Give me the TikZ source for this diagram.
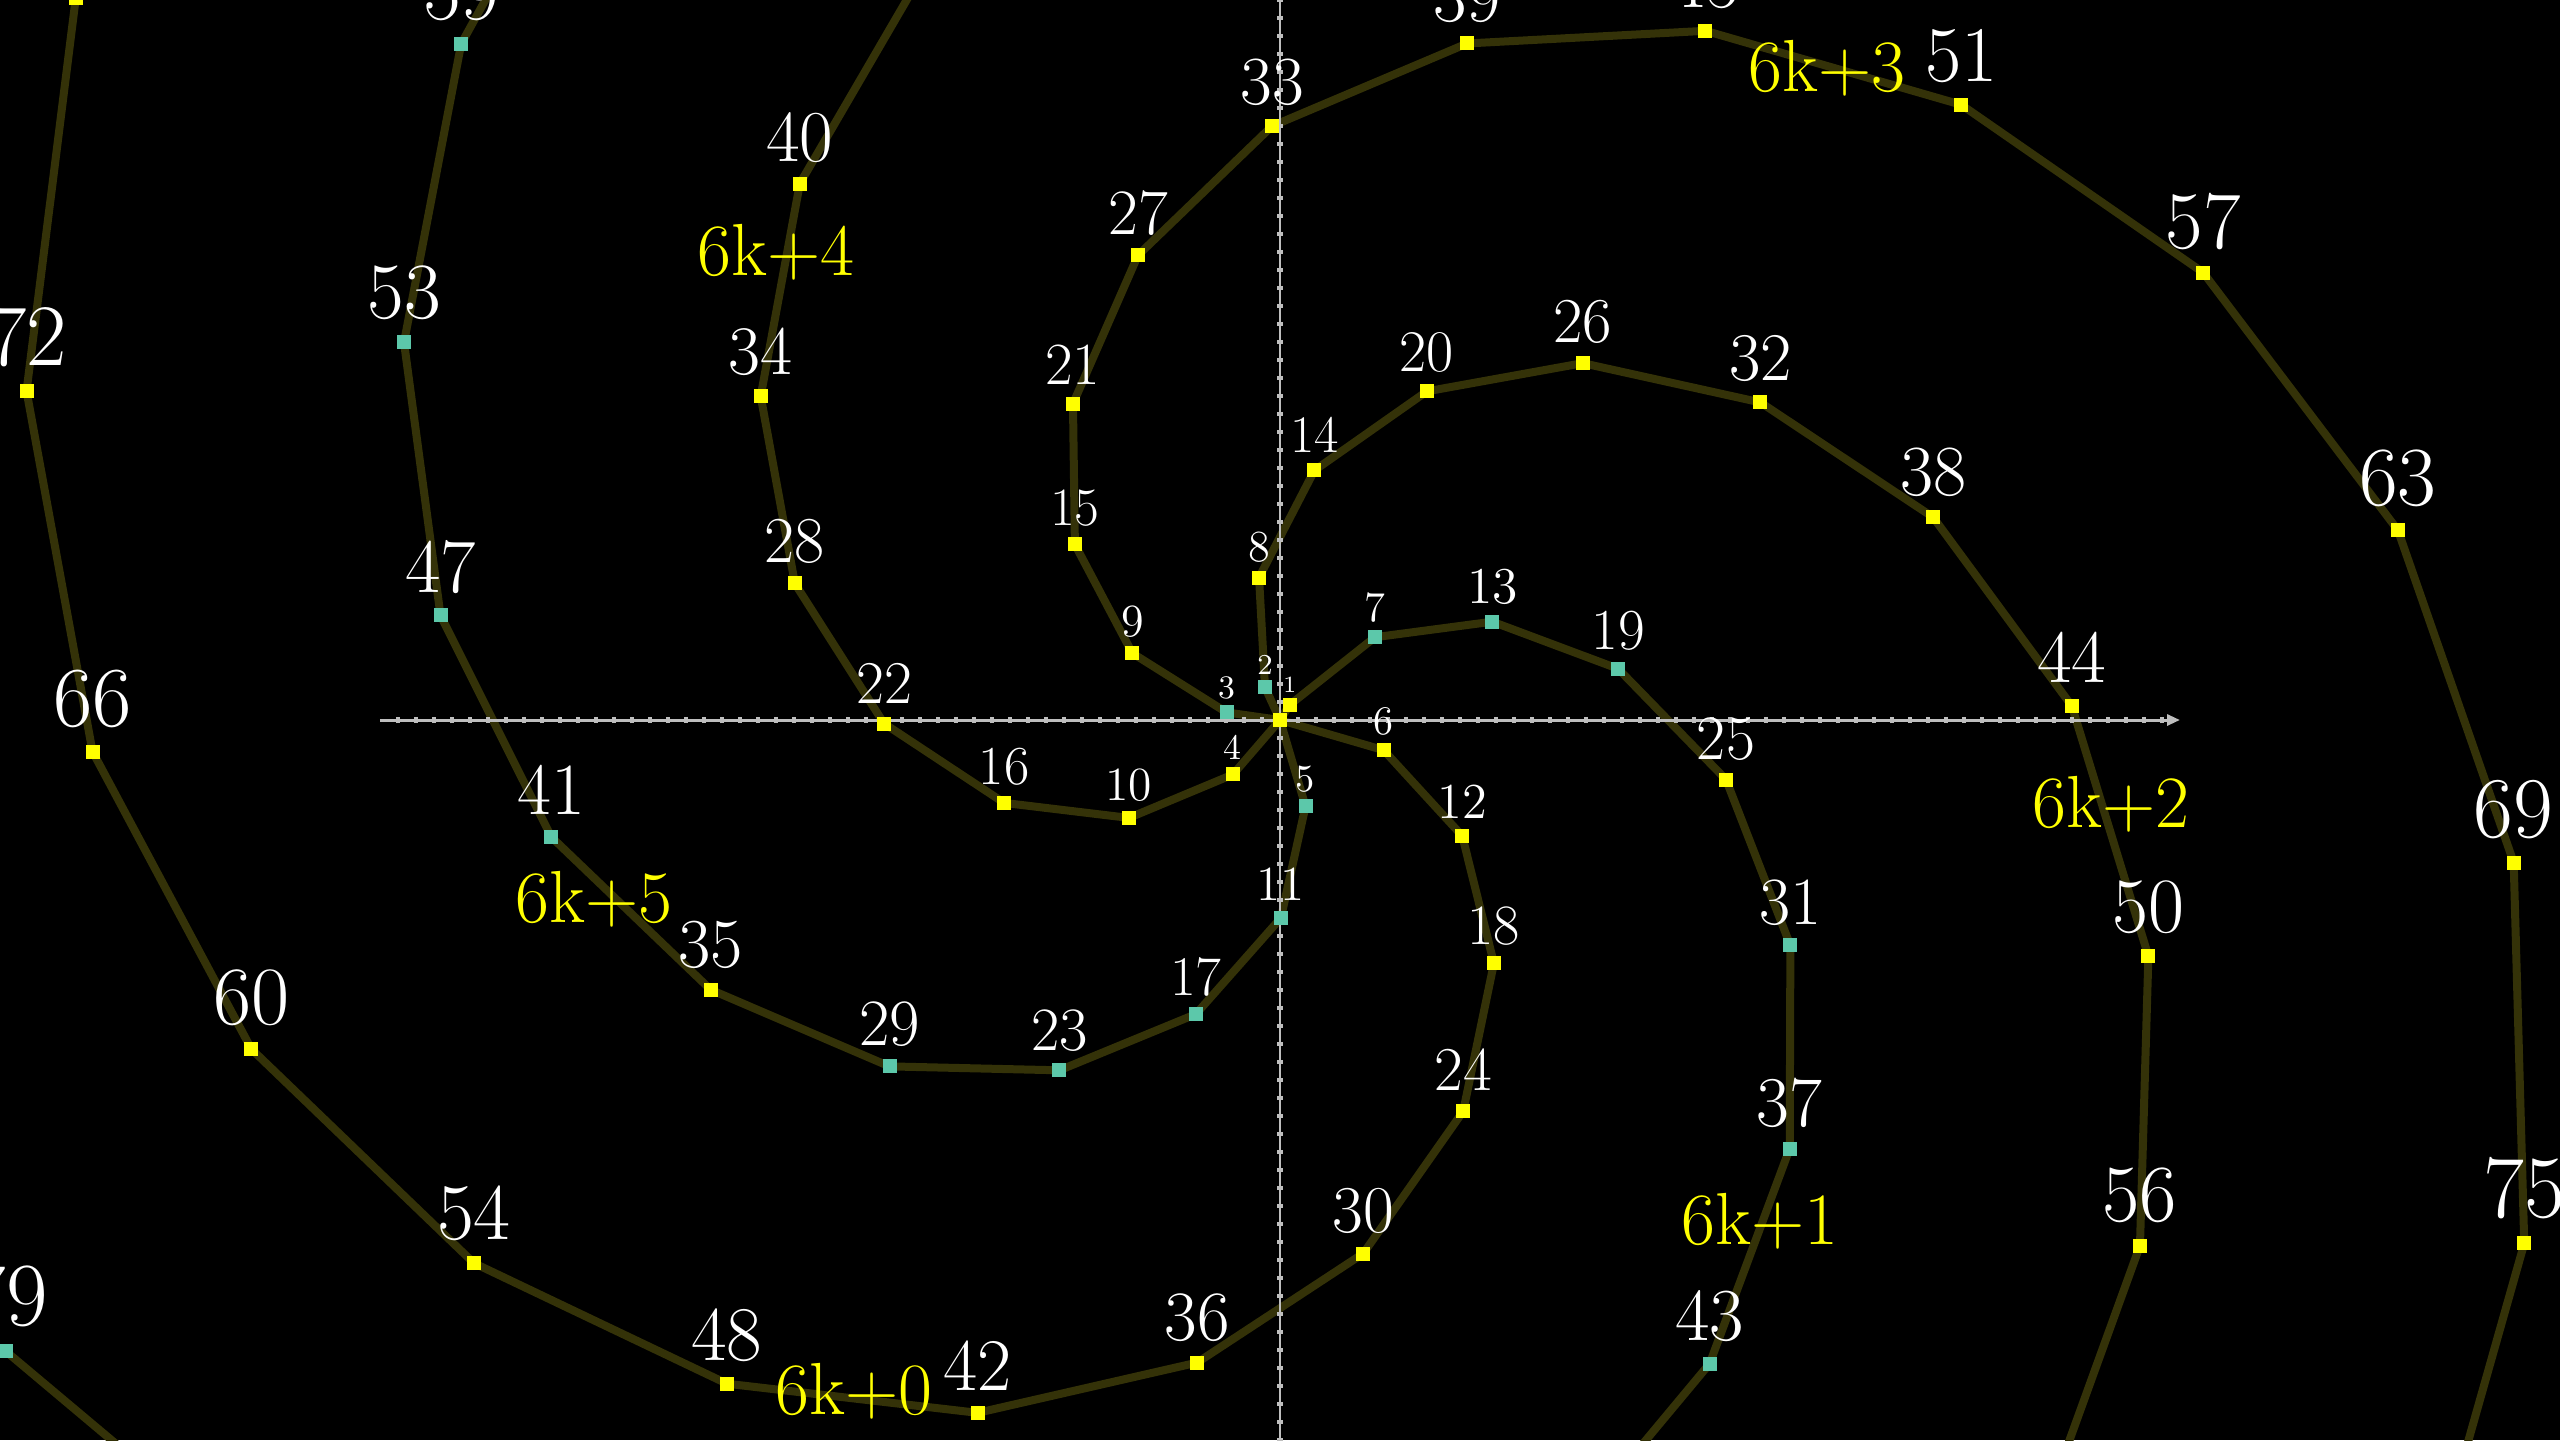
\documentclass[tikz,border=0pt]{standalone}
\usetikzlibrary{calc,arrows.meta}
\definecolor{armcol}{RGB}{52,50,8}
\definecolor{dotyellow}{RGB}{255,255,0}
\definecolor{dotteal}{RGB}{92,200,170}
\definecolor{axiscol}{RGB}{190,190,190}
\tikzset{
  arm/.style={draw=armcol, line width=0.08cm, line join=round, line cap=round},
  axisline/.style={draw=axiscol, line width=0.03cm},
  tickmark/.style={draw=axiscol, line width=0.035cm},
  dotbox/.style={rectangle, inner sep=0pt, minimum size=0.14cm},
  ydot/.style={dotbox, fill=dotyellow},
  tdot/.style={dotbox, fill=dotteal},
  numlabel/.style={text=white, inner sep=0pt, anchor=base},
  classlabel/.style={text=dotyellow, inner sep=0pt, anchor=base, font=\fontsize{21pt}{21pt}\selectfont}
}
\begin{document}
\begin{tikzpicture}
\useasboundingbox (-12.8,-7.2) rectangle (12.8,7.2);
\fill[black] (-12.8,-7.2) rectangle (12.8,7.2);
\clip (-12.8,-7.2) rectangle (12.8,7.2);
% point positions: n at polar (n, n rad)
\foreach \n in {0,...,81} {
  \coordinate (p\n) at ({0.18*\n*cos(deg(\n))},{0.18*\n*sin(deg(\n))});
}
% spiral arms (residue classes mod 6)
\draw[arm] (p0) foreach \k in {6,12,...,78}{ -- (p\k)};
\draw[arm] (p0) foreach \k in {1,7,...,79}{ -- (p\k)};
\draw[arm] (p0) foreach \k in {2,8,...,80}{ -- (p\k)};
\draw[arm] (p0) foreach \k in {3,9,...,81}{ -- (p\k)};
\draw[arm] (p0) foreach \k in {4,10,...,76}{ -- (p\k)};
\draw[arm] (p0) foreach \k in {5,11,...,77}{ -- (p\k)};
% axes
\coordinate (xl) at (-9,0);
\coordinate (xr) at (9,0);
\coordinate (yb) at (0,-9);
\coordinate (yt) at (0,9);
\draw[axisline, -{Triangle[length=0.13cm,width=0.11cm]}] (xl) -- (xr);
\draw[axisline] (yb) -- (yt);
\foreach \i in {-49,...,49} {
  \draw[tickmark] ({0.18*\i},-0.03) -- ({0.18*\i},0.03);
  \draw[tickmark] (-0.03,{0.18*\i}) -- (0.03,{0.18*\i});
}
% dots
\foreach \n in {0,1,4,6,8,9,10,12,14,15,16,18,20,21,22,24,25,26,27,28,30,32,33,34,35,36,38,39,40,42,44,45,46,48,49,50,51,52,54,55,56,57,58,60,62,63,64,65,66,68,69,70,72,74,75,76,77,78,80,81} {
  \node[ydot] (d\n) at (p\n) {};
}
\foreach \n in {2,3,5,7,11,13,17,19,23,29,31,37,41,43,47,53,59,61,67,71,73,79} {
  \node[tdot] (d\n) at (p\n) {};
}
% number labels
\foreach \n in {1,...,81} {
  \pgfmathsetmacro{\fs}{6.63*(\n^0.31)}
  \pgfmathsetmacro{\off}{0.07+0.0495*(\n^0.31)}
  \node[numlabel, font=\fontsize{\fs pt}{\fs pt}\selectfont] (l\n) at ($(p\n)+(0,\off)$) {\n};
}
% class labels
\node[classlabel] (c3) at (5.47,6.28) {6k+3};
\node[classlabel] (c4) at (-5.04,4.44) {6k+4};
\node[classlabel] (c2) at (8.31,-1.07) {6k+2};
\node[classlabel] (c5) at (-6.86,-2.025) {6k+5};
\node[classlabel] (c1) at (4.80,-5.24) {6k+1};
\node[classlabel] (c0) at (-4.26,-6.94) {6k+0};
\end{tikzpicture}
\end{document}
